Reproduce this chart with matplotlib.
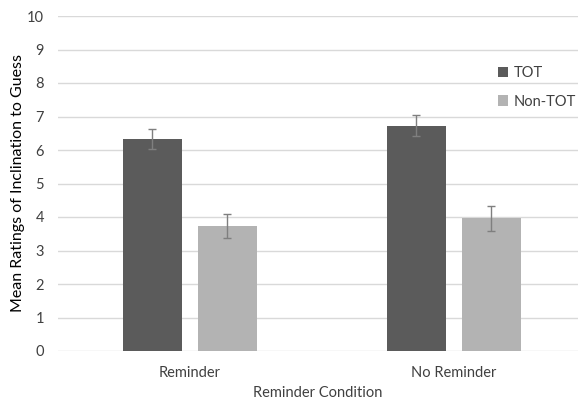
import matplotlib.pyplot as plt
import numpy as np

plt.rcParams['font.family'] = ['Lato', 'DejaVu Sans']

conditions = ["Reminder", "No Reminder"]
tot_means = [6.32, 6.73]
tot_err = [0.30, 0.30]
nontot_means = [3.74, 3.96]
nontot_err = [0.36, 0.37]

fig = plt.figure(figsize=(5.79, 4.03), dpi=100)
ax = fig.add_axes([58 / 579, 1 - 351 / 403, 520 / 579, 335 / 403])

x = np.arange(len(conditions))
w = 0.223
off = 0.142
ax.bar(x - off, tot_means, w, color='#5b5b5b', label='TOT', zorder=2)
ax.bar(x + off, nontot_means, w, color='#b3b3b3', label='Non-TOT', zorder=2)
ax.errorbar(x - off, tot_means, yerr=tot_err, fmt='none', ecolor='#7f7f7f',
            elinewidth=1, capsize=3, capthick=1, zorder=3)
ax.errorbar(x + off, nontot_means, yerr=nontot_err, fmt='none', ecolor='#7f7f7f',
            elinewidth=1, capsize=3, capthick=1, zorder=3)

ax.set_xlim(-0.5, 1.47)
ax.set_ylim(0, 10)
ax.set_yticks(range(0, 11))
ax.set_xticks(x)
ax.set_xticklabels(conditions)
ax.grid(axis='y', color='#d9d9d9', linewidth=1, zorder=0)
for s in ax.spines.values():
    s.set_visible(False)
ax.tick_params(length=0, labelsize=10.5, colors='#404040')
ax.tick_params(axis='x', pad=11)
ax.tick_params(axis='y', pad=10)
ax.set_xlabel("Reminder Condition", fontsize=10.5, color='#404040')
ax.xaxis.set_label_coords(0.5, -0.105)
ax.set_ylabel("Mean Ratings of Inclination to Guess", fontsize=11.5, color='black')
ax.yaxis.set_label_coords(-0.063, 0.5)

ax.legend(loc='upper left', bbox_to_anchor=(0.82, 0.89), frameon=False,
          fontsize=10.5, handlelength=0.7, handleheight=0.7, handletextpad=0.4,
          labelspacing=1.0, labelcolor='#404040')

fig.savefig("out.png", dpi=100)
